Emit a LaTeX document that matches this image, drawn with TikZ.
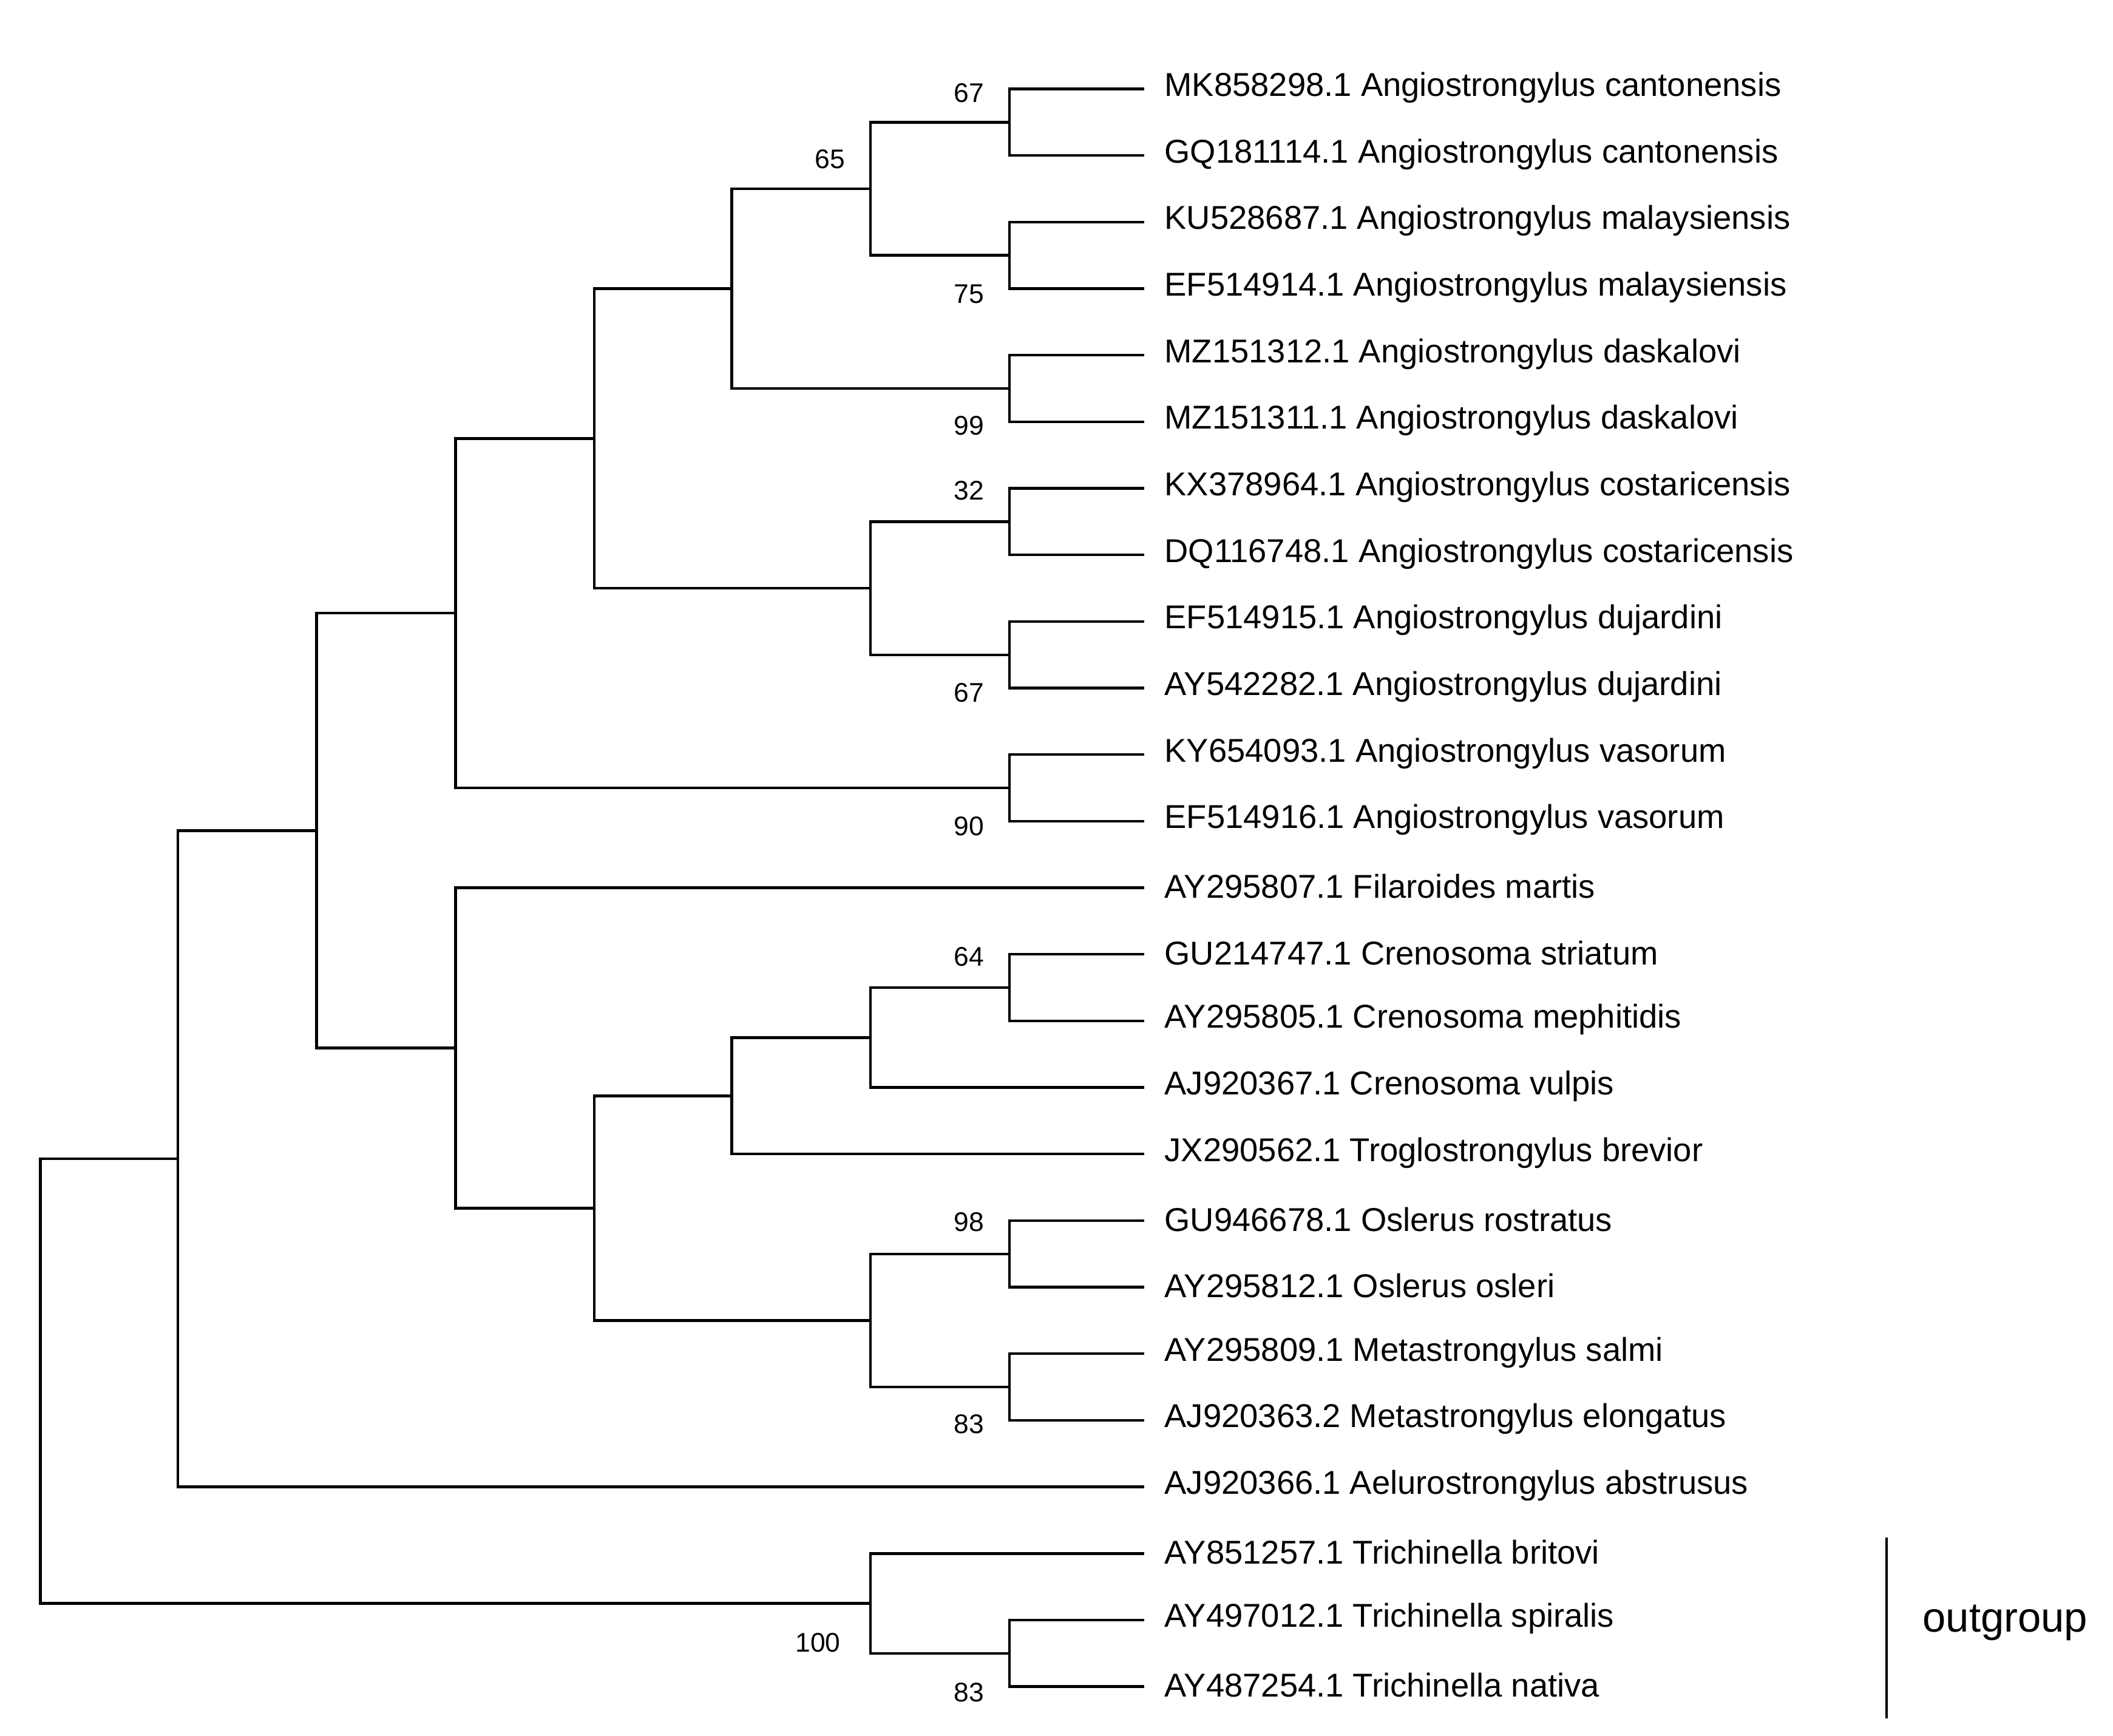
\documentclass[tikz,border=0pt]{standalone}
\usepackage{fontspec}
\setmainfont{Liberation Sans}
\begin{document}
\begin{tikzpicture}[x=1pt,y=-1pt,
  br/.style={line width=2pt,line cap=rect},
  leaf/.style={anchor=west,inner sep=0pt,font=\fontsize{24.5}{26}\selectfont},
  bs/.style={inner sep=0pt,font=\fontsize{20}{22}\selectfont}]
\useasboundingbox (0,0) rectangle (1568,1288);
\foreach \i/\t in {0/MK858298.1 Angiostrongylus cantonensis,1/GQ181114.1 Angiostrongylus cantonensis,2/KU528687.1 Angiostrongylus malaysiensis,3/EF514914.1 Angiostrongylus malaysiensis,4/MZ151312.1 Angiostrongylus daskalovi,5/MZ151311.1 Angiostrongylus daskalovi,6/KX378964.1 Angiostrongylus costaricensis,7/DQ116748.1 Angiostrongylus costaricensis,8/EF514915.1 Angiostrongylus dujardini,9/AY542282.1 Angiostrongylus dujardini,10/KY654093.1 Angiostrongylus vasorum,11/EF514916.1 Angiostrongylus vasorum,12/AY295807.1 Filaroides martis,13/GU214747.1 Crenosoma striatum,14/AY295805.1 Crenosoma mephitidis,15/AJ920367.1 Crenosoma vulpis,16/JX290562.1 Troglostrongylus brevior,17/GU946678.1 Oslerus rostratus,18/AY295812.1 Oslerus osleri,19/AY295809.1 Metastrongylus salmi,20/AJ920363.2 Metastrongylus elongatus,21/AJ920366.1 Aelurostrongylus abstrusus,22/AY851257.1 Trichinella britovi,23/AY497012.1 Trichinella spiralis,24/AY487254.1 Trichinella nativa}{
  \coordinate (l\i) at (848,66+49.4*\i);
  \node[leaf] (t\i) at (864,65+49.4*\i) {\t};
}
\coordinate (A) at (749,90.7);
\coordinate (B) at (749,189.5);
\coordinate (C) at (646,140.1);
\coordinate (D) at (749,288.3);
\coordinate (E) at (543,214.2);
\coordinate (F) at (749,387.1);
\coordinate (G) at (749,485.9);
\coordinate (H) at (646,436.5);
\coordinate (I) at (441,325.35);
\coordinate (J) at (749,584.7);
\coordinate (K) at (338,455);
\coordinate (L) at (749,732.9);
\coordinate (M) at (646,769.95);
\coordinate (N) at (543,813.2);
\coordinate (O) at (749,930.5);
\coordinate (P) at (749,1029.3);
\coordinate (Q) at (646,979.9);
\coordinate (R) at (441,896.55);
\coordinate (S) at (338,777.7);
\coordinate (T) at (235,616.4);
\coordinate (U) at (132,859.9);
\coordinate (V) at (749,1226.9);
\coordinate (W) at (646,1189.85);
\coordinate (Z) at (30,1024.9);
\newcommand\clade[3]{\draw[br] (#2) -- (#2 -| #1) -- (#3 -| #1) -- (#3);}
\clade{A}{l0}{l1}
\clade{B}{l2}{l3}
\clade{C}{A}{B}
\clade{D}{l4}{l5}
\clade{E}{C}{D}
\clade{F}{l6}{l7}
\clade{G}{l8}{l9}
\clade{H}{F}{G}
\clade{I}{E}{H}
\clade{J}{l10}{l11}
\clade{K}{I}{J}
\clade{L}{l13}{l14}
\clade{M}{L}{l15}
\clade{N}{M}{l16}
\clade{O}{l17}{l18}
\clade{P}{l19}{l20}
\clade{Q}{O}{P}
\clade{R}{N}{Q}
\clade{S}{l12}{R}
\clade{T}{K}{S}
\clade{U}{T}{l21}
\clade{V}{l23}{l24}
\clade{W}{l22}{V}
\clade{Z}{U}{W}
\node[bs] (b1) at (719,69) {67};
\node[bs] (b2) at (616,118) {65};
\node[bs] (b3) at (719,218) {75};
\node[bs] (b4) at (719,316) {99};
\node[bs] (b5) at (719,364) {32};
\node[bs] (b6) at (719,514) {67};
\node[bs] (b7) at (719,613) {90};
\node[bs] (b8) at (719,710) {64};
\node[bs] (b9) at (719,907) {98};
\node[bs] (b10) at (719,1057) {83};
\node[bs] (b11) at (607,1219) {100};
\node[bs] (b12) at (719,1256) {83};
\coordinate (og1) at (1400,1141);
\coordinate (og2) at (1400,1275);
\draw[line width=2pt] (og1) -- (og2);
\node[inner sep=0pt,font=\fontsize{31}{34}\selectfont] (og) at (1488,1204) {outgroup};
\end{tikzpicture}
\end{document}
